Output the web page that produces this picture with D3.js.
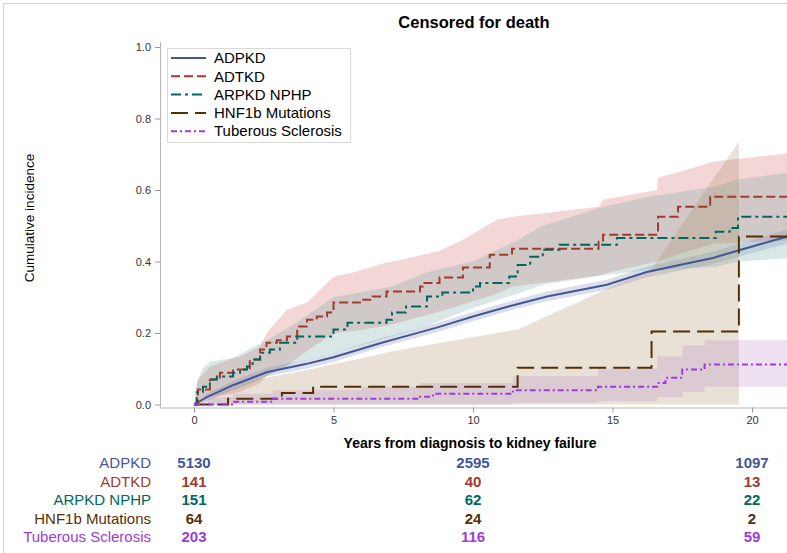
<!DOCTYPE html>
<html>
<head>
<meta charset="utf-8">
<script src="https://cdn.jsdelivr.net/npm/d3@7"></script>
<style>
  body { margin: 0; background: #fff; }
  svg { display: block; font-family: "Liberation Sans", Arial, sans-serif; }
</style>
</head>
<body>
<div id="chart"></div>
<script>
// Cumulative incidence curves, censored for death

const groups = ["ADPKD", "ADTKD", "ARPKD NPHP", "HNF1b Mutations", "Tuberous Sclerosis"];

// estimates [years, incidence]
const adpkdCurve = [[0,0],[0.5,0.022],[1.4,0.054],[2.6,0.09],[4.0,0.113],[5.0,0.132],[6.7,0.172],[7.4,0.187],[8.7,0.215],[10.0,0.246],[11.3,0.275],[12.65,0.302],[14.8,0.335],[16.2,0.37],[17.4,0.39],[18.6,0.41],[19.6,0.433],[21.5,0.475]];
const adtkdCurve = [[0,0],[0.14,0.042],[0.57,0.07],[0.93,0.089],[1.4,0.098],[2.0,0.126],[2.37,0.154],[2.6,0.173],[2.97,0.18],[3.33,0.19],[3.7,0.218],[4.05,0.237],[4.4,0.246],[4.77,0.257],[5.0,0.285],[5.95,0.293],[6.4,0.302],[6.9,0.316],[8.1,0.33],[8.2,0.34],[8.8,0.355],[9.64,0.383],[10.6,0.419],[11.4,0.436],[14.5,0.455],[14.66,0.475],[16.63,0.525],[17.35,0.553],[18.5,0.581],[21.5,0.581]];
const arpkdCurve = [[0,0],[0.1,0.034],[0.32,0.05],[0.57,0.07],[0.82,0.078],[1.4,0.089],[1.65,0.098],[1.9,0.106],[2.1,0.126],[2.37,0.145],[2.72,0.154],[3.08,0.173],[3.7,0.19],[5.0,0.21],[5.5,0.229],[6.9,0.237],[7.1,0.257],[7.6,0.274],[8.35,0.302],[8.9,0.313],[10.0,0.33],[10.25,0.34],[11.3,0.358],[11.6,0.39],[12.05,0.413],[12.5,0.433],[13.1,0.447],[15.16,0.466],[18.7,0.483],[19.2,0.494],[19.5,0.525],[21.5,0.528]];
const hnf1bCurve = [[0,0],[1.22,0.016],[3.15,0.032],[4.27,0.05],[11.6,0.103],[16.4,0.204],[19.53,0.47],[21.5,0.47]];
const tscCurve = [[0,0],[1.4,0.008],[2.83,0.016],[8.1,0.022],[8.57,0.03],[11.43,0.04],[14.48,0.05],[16.6,0.06],[16.9,0.075],[17.5,0.098],[18.3,0.112],[21.5,0.112]];

// confidence bands [years, lower, upper]
const adpkdBand = [[0,0,0],[0.5,0.01,0.032],[1.4,0.042,0.066],[2.6,0.078,0.103],[4.0,0.1,0.126],[5.0,0.119,0.145],[6.7,0.16,0.185],[7.4,0.175,0.2],[8.7,0.202,0.228],[10.0,0.233,0.259],[11.3,0.262,0.288],[12.65,0.289,0.316],[14.8,0.321,0.349],[16.2,0.355,0.385],[17.4,0.374,0.406],[18.6,0.393,0.427],[19.6,0.415,0.451],[21.5,0.455,0.495]];
const adtkdBand = [[0,0,0],[0.14,0.01,0.07],[0.57,0.02,0.106],[1.4,0.03,0.13],[1.65,0.035,0.134],[2.37,0.06,0.162],[2.6,0.08,0.2],[3.33,0.11,0.265],[4.05,0.15,0.285],[5.0,0.2,0.357],[5.7,0.205,0.369],[6.9,0.22,0.397],[7.4,0.23,0.404],[8.8,0.26,0.43],[9.64,0.28,0.461],[10.86,0.31,0.517],[11.43,0.33,0.525],[14.5,0.36,0.553],[14.66,0.365,0.573],[16.6,0.4,0.6],[16.63,0.4,0.634],[17.35,0.42,0.65],[18.6,0.45,0.679],[21.5,0.46,0.704]];
const arpkdBand = [[0,0,0],[0.1,0.0,0.06],[0.3,0.01,0.1],[0.57,0.02,0.12],[1.4,0.04,0.13],[2.1,0.06,0.16],[2.6,0.08,0.18],[3.7,0.12,0.23],[5.0,0.145,0.3],[7.1,0.19,0.33],[8.35,0.22,0.37],[10.0,0.27,0.4],[11.6,0.31,0.46],[12.5,0.335,0.5],[14.5,0.36,0.55],[16.2,0.375,0.58],[18.7,0.385,0.61],[19.5,0.4,0.63],[21.5,0.41,0.65]];
const hnf1bBand = [[0,0,0],[1.22,0,0.04],[2.26,0,0.07],[4.27,0,0.1],[7.4,0,0.153],[11.6,0,0.21],[16.4,0,0.38],[19.53,0,0.735]];
const tscBand = [[0,0,0],[0.5,0,0.02],[1.4,0,0.03],[2.83,0,0.04],[6.0,0,0.05],[8.1,0,0.06],[11.43,0.005,0.08],[14.48,0.01,0.1],[16.6,0.02,0.135],[17.5,0.035,0.165],[18.3,0.05,0.18],[21.5,0.05,0.187]];

// number at risk
const riskTimes = [0, 10, 20];
const atRisk = [
    [5130, 2595, 1097],
    [141, 40, 13],
    [151, 62, 22],
    [64, 24, 2],
    [203, 116, 59]
];

const xTicks = [0, 5, 10, 15, 20];
const yTicks = [0, 0.2, 0.4, 0.6, 0.8, 1.0];

// styles
const lineColors = ["#445694", "#A23A2E", "#01665E", "#543005", "#9D3CDB"];
const bandColors = ["#6F7EB3", "#D05B5B", "#66A5A0", "#A9865B", "#B689CD"];
const dashes = [null, "9,4", "10,4,3,4", "17,7", "6,3,2,3"];

const curves = [adpkdCurve, adtkdCurve, arpkdCurve, hnf1bCurve, tscCurve];
const bands = [adpkdBand, adtkdBand, arpkdBand, hnf1bBand, tscBand];

const W = 787, H = 553;
const svg = d3.select("#chart").append("svg").attr("width", W).attr("height", H);

// outer border
svg.append("rect")
    .attr("x", 3.5).attr("y", 3.5)
    .attr("width", W + 10).attr("height", H + 10)
    .attr("fill", "none").attr("stroke", "#d3d3d3");

const x = d3.scaleLinear().domain([0, 20]).range([194, 752]);
const y = d3.scaleLinear().domain([0, 1]).range([404.5, 47]);

const plotLeft = 160, plotBottom = 407.5, plotTop = 40;

svg.append("clipPath").attr("id", "plotclip")
    .append("rect")
    .attr("x", plotLeft + 1).attr("y", plotTop)
    .attr("width", W - plotLeft).attr("height", plotBottom - plotTop);

// Title
svg.append("text")
    .attr("x", 474).attr("y", 28)
    .attr("text-anchor", "middle")
    .style("font-size", "16.5px").style("font-weight", "bold")
    .text("Censored for death");

const plot = svg.append("g").attr("clip-path", "url(#plotclip)");

// bands
bands.forEach((b, i) => {
    const area = d3.area()
        .x(d => x(d[0]))
        .y0(d => y(d[1]))
        .y1(d => y(d[2]))
        .curve(i === 4 ? d3.curveStepAfter : d3.curveLinear);
    plot.append("path")
        .datum(b)
        .attr("d", area)
        .attr("fill", bandColors[i])
        .attr("fill-opacity", 0.25);
});

// curves
curves.forEach((c, i) => {
    const line = d3.line()
        .x(d => x(d[0]))
        .y(d => y(d[1]))
        .curve(i === 0 ? d3.curveLinear : d3.curveStepAfter);
    plot.append("path")
        .datum(c)
        .attr("d", line)
        .attr("fill", "none")
        .attr("stroke", lineColors[i])
        .attr("stroke-width", 2)
        .attr("stroke-dasharray", dashes[i]);
});

// Axes
const xAxis = svg.append("g")
    .attr("transform", `translate(0,${plotBottom})`)
    .call(d3.axisBottom(x).tickValues(xTicks).tickSize(5).tickPadding(4).tickFormat(d3.format("d")));
xAxis.select(".domain").attr("d", `M${plotLeft},0.5H${W}`);

const yAxis = svg.append("g")
    .attr("transform", `translate(${plotLeft},0)`)
    .call(d3.axisLeft(y).tickValues(yTicks).tickSize(5).tickPadding(4).tickFormat(d3.format(".1f")));
yAxis.select(".domain").attr("d", `M0.5,42V${plotBottom}`);

svg.selectAll(".tick text").attr("fill", "#333").style("font-size", "11px").style("font-family", "Liberation Sans, Arial, sans-serif");
svg.selectAll(".tick line").attr("stroke", "#999");
svg.selectAll(".domain").attr("stroke", "#b5b5b5");

// axis labels
svg.append("text")
    .attr("x", 470).attr("y", 448)
    .attr("text-anchor", "middle")
    .style("font-size", "14px").style("font-weight", "bold")
    .text("Years from diagnosis to kidney failure");

svg.append("text")
    .attr("transform", "translate(34,218) rotate(-90)")
    .attr("text-anchor", "middle")
    .style("font-size", "13.5px")
    .text("Cumulative incidence");

// Legend
const legend = svg.append("g").attr("transform", "translate(167,48)");
legend.append("rect")
    .attr("x", 0.5).attr("y", 0.5)
    .attr("width", 183).attr("height", 94)
    .attr("fill", "#fff").attr("stroke", "#d9d9d9");

groups.forEach((g, i) => {
    const ly = 10 + i * 18.3;
    legend.append("line")
        .attr("x1", 4).attr("x2", 39)
        .attr("y1", ly).attr("y2", ly)
        .attr("stroke", lineColors[i])
        .attr("stroke-width", 2)
        .attr("stroke-dasharray", dashes[i]);
    legend.append("text")
        .attr("x", 47).attr("y", ly)
        .attr("dy", "0.35em")
        .style("font-size", "15px")
        .text(g);
});

// Number at risk table
groups.forEach((g, i) => {
    const ry = 463 + i * 18.5;
    svg.append("text")
        .attr("x", 151).attr("y", ry)
        .attr("dy", "0.35em")
        .attr("text-anchor", "end")
        .attr("fill", lineColors[i])
        .style("font-size", "15px")
        .text(g);
    atRisk[i].forEach((n, j) => {
        svg.append("text")
            .attr("x", x(riskTimes[j])).attr("y", ry)
            .attr("dy", "0.35em")
            .attr("text-anchor", "middle")
            .attr("fill", lineColors[i])
            .style("font-size", "15px").style("font-weight", "bold")
            .text(n);
    });
});
</script>
</body>
</html>
